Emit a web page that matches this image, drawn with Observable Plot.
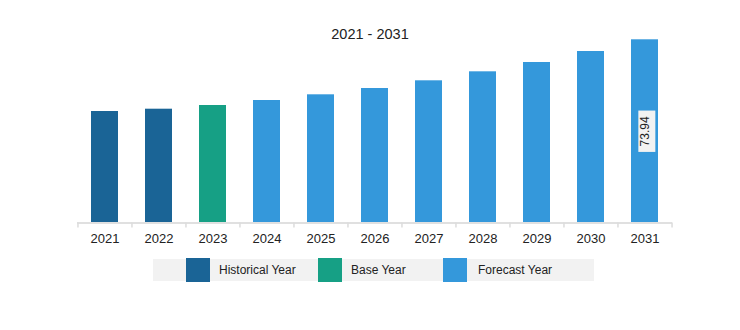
<!DOCTYPE html>
<html><head><meta charset="utf-8">
<script src="https://cdn.jsdelivr.net/npm/d3@7"></script>
<script src="https://cdn.jsdelivr.net/npm/@observablehq/plot@0.6"></script>
<style>
body{margin:0;background:#fff;font-family:"Liberation Sans",Arial,sans-serif;}
#wrap{position:relative;width:740px;height:330px;overflow:hidden;}
#title{position:absolute;top:26px;left:0;width:740px;text-align:center;font-size:14.5px;line-height:16px;color:#222;}
#chart{position:absolute;top:0;left:0;}
#legend{position:absolute;top:259px;left:153px;width:441px;height:22px;background:#f2f2f2;}
.sw{position:absolute;top:-1px;width:24px;height:24px;}
.lt{position:absolute;top:0;line-height:22px;font-size:12px;color:#222;white-space:nowrap;}
</style></head>
<body>
<div id="wrap">
  <div id="chart"></div>
  <div id="title">2021 - 2031</div>
  <div id="legend"></div>
</div>
<script>
const years = ["2021","2022","2023","2024","2025","2026","2027","2028","2029","2030","2031"];
const values = [45.0, 45.93, 47.42, 49.44, 51.74, 54.28, 57.39, 61.02, 64.78, 69.22, 73.94];
const types = ["Historical Year","Historical Year","Base Year","Forecast Year","Forecast Year","Forecast Year","Forecast Year","Forecast Year","Forecast Year","Forecast Year","Forecast Year"];
const typeNames = ["Historical Year","Base Year","Forecast Year"];
const typeColors = ["#1a6496","#16a085","#3498db"];
const labelYears = ["2031"];

const data = years.map((y,i)=>({year:y, value:values[i], type:types[i]}));
const labelData = data.filter(d=>labelYears.includes(d.year));

const W = 740, mL = 77, mR = 68;
const step = (W - mL - mR) / years.length;

const plot = Plot.plot({
  width: W, height: 250,
  marginLeft: mL, marginRight: mR, marginTop: 39.3, marginBottom: 27.5,
  style: {fontFamily: '"Liberation Sans", Arial, sans-serif', background: "transparent"},
  x: {domain: years, paddingInner: 0.5, paddingOuter: 0.25, axis: null, label: null},
  y: {domain: [0, d3.max(values)], axis: null, label: null},
  color: {domain: typeNames, range: typeColors},
  marks: [
    Plot.barY(data, {x: "year", y: "value", fill: "type"}),
    Plot.ruleY([0], {stroke: "#e0e0e0", strokeWidth: 2}),
    Plot.axisX(years, {tickSize: 5, tickFormat: () => "", label: null, dx: -step/2, stroke: "#dcdcdc", strokeWidth: 1.5}),
    Plot.axisX([years[years.length-1]], {tickSize: 5, tickFormat: () => "", label: null, dx: step/2, stroke: "#dcdcdc", strokeWidth: 1.5}),
    Plot.axisX(years, {tickSize: 0, tickPadding: 11, fontSize: 13, fill: "#222", label: null}),
    Plot.text(labelData, {x: "year", y: d => d.value/2, text: d => d.value.toFixed(2), rotate: -90, fontSize: 12, fill: "#222"})
  ]
});
document.getElementById("chart").appendChild(plot);

// background boxes behind value labels
document.querySelectorAll('g[aria-label="text"] text').forEach(t => {
  const b = t.getBBox();
  const r = document.createElementNS("http://www.w3.org/2000/svg","rect");
  r.setAttribute("x", b.x - 5.5);
  r.setAttribute("y", b.y + 0.5);
  r.setAttribute("width", b.width + 11);
  r.setAttribute("height", b.height + 3);
  r.setAttribute("fill", "#f2f2f2");
  const tr = t.getAttribute("transform");
  if (tr) r.setAttribute("transform", tr);
  t.parentNode.insertBefore(r, t);
});

// legend
const legend = document.getElementById("legend");
const swX = [33, 165, 290], txX = [66, 198, 325];
typeNames.forEach((n,i)=>{
  const s = document.createElement("div");
  s.className = "sw"; s.style.left = swX[i]+"px"; s.style.background = typeColors[i];
  const t = document.createElement("div");
  t.className = "lt"; t.style.left = txX[i]+"px"; t.textContent = n;
  legend.appendChild(s); legend.appendChild(t);
});
</script>
</body></html>
